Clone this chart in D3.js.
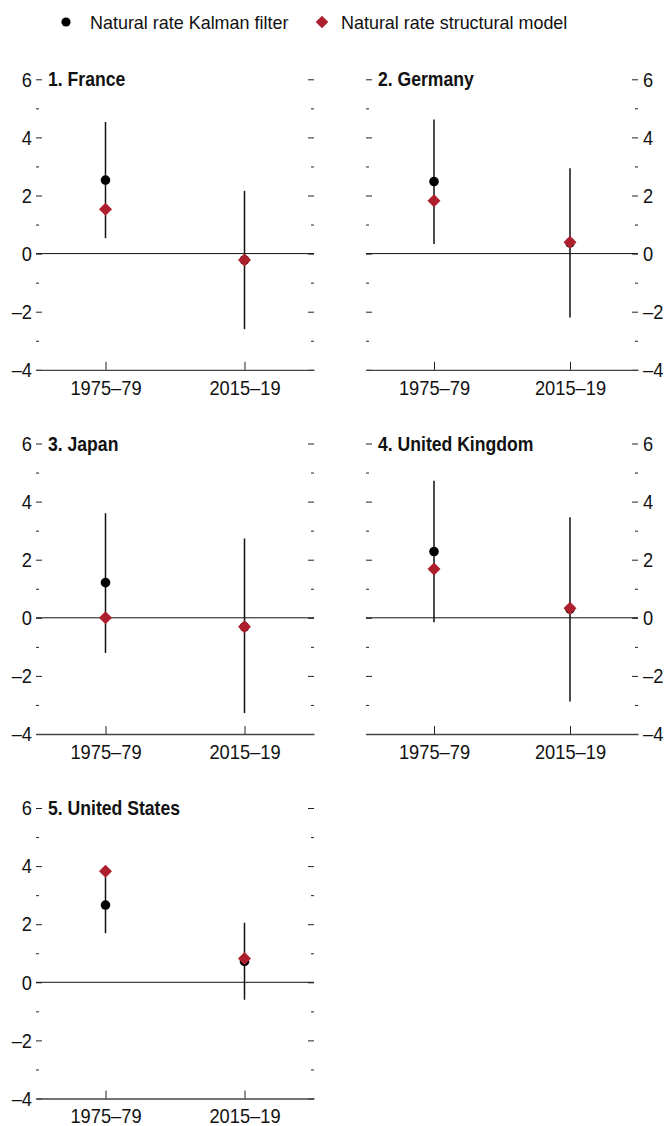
<!DOCTYPE html>
<html>
<head>
<meta charset="utf-8">
<script src="https://cdn.jsdelivr.net/npm/d3@7"></script>
<style>
  html, body { margin: 0; padding: 0; background: #fff; }
  svg { display: block; }
  text { font-family: "Liberation Sans", Arial, sans-serif; fill: #111; }
</style>
</head>
<body>
<svg id="chart" width="664" height="1126"></svg>
<script>
// ---- data ----
const categories = ["1975–79", "2015–19"];
const countries = ["1. France", "2. Germany", "3. Japan", "4. United Kingdom", "5. United States"];
const kalman     = [[2.53, -0.22], [2.48, 0.37], [1.21, -0.31], [2.28, 0.30], [2.66, 0.72]];
const structural = [[1.53, -0.22], [1.82, 0.39], [0.00, -0.31], [1.68, 0.33], [3.82, 0.82]];
const lower      = [[0.53, -2.60], [0.33, -2.20], [-1.21, -3.28], [-0.15, -2.88], [1.69, -0.60]];
const upper      = [[4.53, 2.16], [4.62, 2.94], [3.60, 2.73], [4.72, 3.46], [3.63, 2.05]];
const majorTicks = [-4, -2, 0, 2, 4, 6];
const minorTicks = [-3, -1, 1, 3, 5];
const legendLabels = ["Natural rate Kalman filter", "Natural rate structural model"];

// ---- layout ----
const svg = d3.select("#chart");
const RED = "#AE1F2D";
const colRanges = [[36, 314], [366, 638]];
const rowTops = [79.3, 443.5, 808];
const panelH = 290.5;
const fmt = d => d < 0 ? "–" + Math.abs(d) : String(d);
const AX_S = 0.87, TITLE_S = 0.88, LEG_S = 0.945;

// condensed text helper: scales horizontally while keeping anchor position
function condense(sel, s) {
  sel.each(function () {
    const x = +(this.getAttribute("x") || 0);
    this.setAttribute("x", x / s);
    this.setAttribute("transform", `scale(${s},1)`);
  });
}

// legend
const leg = svg.append("g");
leg.append("circle").attr("cx", 66).attr("cy", 22).attr("r", 4.6).attr("fill", "#000");
leg.append("text").attr("x", 90).attr("y", 29).attr("font-size", 19).text(legendLabels[0]).call(condense, LEG_S);
leg.append("path").attr("d", d3.symbol(d3.symbolSquare, 80)()).attr("transform", "translate(322,22) rotate(45)").attr("fill", RED);
leg.append("text").attr("x", 341).attr("y", 29).attr("font-size", 19).text(legendLabels[1]).call(condense, LEG_S);

countries.forEach((name, i) => {
  const col = i % 2, row = Math.floor(i / 2);
  const [x0, x1] = colRanges[col];
  const top = rowTops[row], bottom = top + panelH;
  const x = d3.scalePoint().domain(categories).range([x0, x1]).padding(0.5);
  const y = d3.scaleLinear().domain([-4, 6]).range([bottom, top]);
  const g = svg.append("g");

  const leftMajor = d3.axisLeft(y).tickValues(majorTicks).tickSize(-6).tickPadding(4).tickFormat(col === 0 ? fmt : () => "");
  const leftMinor = d3.axisLeft(y).tickValues(minorTicks).tickSize(-3).tickFormat(() => "");
  const rightMajor = d3.axisRight(y).tickValues(majorTicks).tickSize(-6).tickPadding(5).tickFormat(col === 1 ? fmt : () => "");
  const rightMinor = d3.axisRight(y).tickValues(minorTicks).tickSize(-3).tickFormat(() => "");

  [[leftMajor, x0], [leftMinor, x0], [rightMajor, x1], [rightMinor, x1]].forEach(([ax, xp]) => {
    const a = g.append("g").attr("transform", `translate(${xp},0)`).call(ax);
    a.select(".domain").remove();
    a.selectAll(".tick line").attr("stroke", "#222").attr("stroke-width", 1);
    a.selectAll("text").attr("font-size", 21).attr("fill", "#111")
      .style("font-family", '"Liberation Sans", Arial, sans-serif').call(condense, AX_S);
  });

  // bottom axis
  const xb = g.append("g").attr("transform", `translate(0,${bottom})`)
    .call(d3.axisBottom(x).tickSize(-8).tickSizeOuter(0).tickPadding(10));
  xb.select(".domain").attr("stroke", "#444").attr("stroke-width", 1.3);
  xb.selectAll(".tick line").attr("stroke", "#222");
  xb.selectAll("text").attr("font-size", 21).attr("fill", "#111")
    .style("font-family", '"Liberation Sans", Arial, sans-serif').call(condense, AX_S);

  // zero line
  g.append("line").attr("x1", x0).attr("x2", x1).attr("y1", y(0)).attr("y2", y(0))
    .attr("stroke", "#111").attr("stroke-width", 1);

  // title
  g.append("text").attr("x", x0 + 12).attr("y", top).attr("dy", "0.36em")
    .attr("font-size", 20).attr("font-weight", "bold").text(name).call(condense, TITLE_S);

  // error bars and markers
  categories.forEach((c, j) => {
    g.append("line").attr("x1", x(c)).attr("x2", x(c))
      .attr("y1", y(lower[i][j])).attr("y2", y(upper[i][j]))
      .attr("stroke", "#111").attr("stroke-width", 1.5);
    g.append("circle").attr("cx", x(c)).attr("cy", y(kalman[i][j])).attr("r", 4.8).attr("fill", "#000");
    g.append("path").attr("d", d3.symbol(d3.symbolSquare, 84)())
      .attr("transform", `translate(${x(c)},${y(structural[i][j])}) rotate(45)`).attr("fill", RED);
  });
});
</script>
</body>
</html>
